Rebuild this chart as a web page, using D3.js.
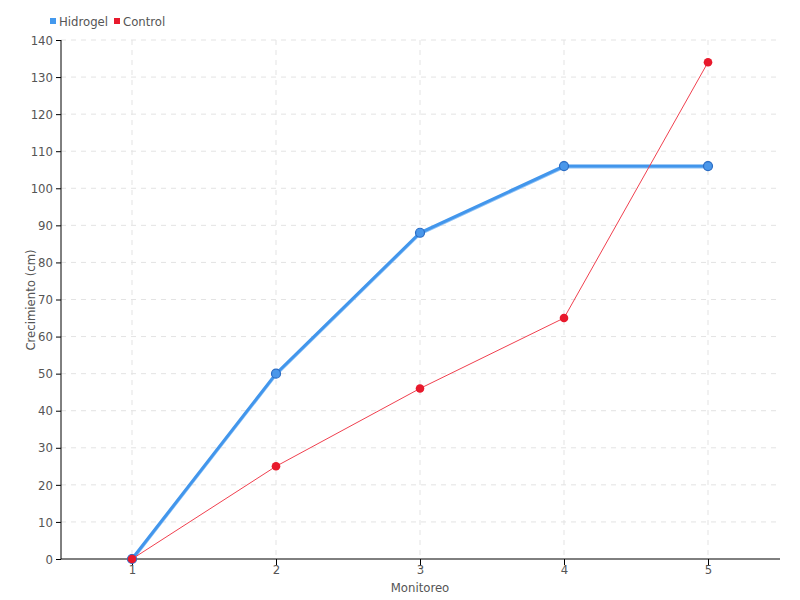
<!DOCTYPE html>
<html><head><meta charset="utf-8">
<script src="https://cdn.jsdelivr.net/npm/d3@7"></script>
<style>body{margin:0;background:#fff}svg{font-family:"Liberation Sans Narrow","DejaVu Sans Condensed",sans-serif}</style>
</head><body><svg id="c" width="800" height="600"></svg>
<script>
const categories=[1,2,3,4,5];
const hidrogel=[0,50,88,106,106];
const control=[0,25,46,65,134];
const yTicks=[0,10,20,30,40,50,60,70,80,90,100,110,120,130,140];
const svg=d3.select("#c");
const x=d3.scaleLinear().domain([0.5,5.5]).range([60,780]);
const y=d3.scaleLinear().domain([0,140]).range([559,40]);
const g=svg.append("g");
const FF="'Liberation Sans Narrow','DejaVu Sans Condensed',sans-serif";
// grid
g.selectAll(".hg").data(yTicks.slice(1)).join("line").attr("x1",61).attr("x2",780)
 .attr("y1",d=>y(d)).attr("y2",d=>y(d)).attr("stroke","#e3e3e3").attr("stroke-dasharray","5,5");
g.selectAll(".vg").data(categories).join("line").attr("x1",d=>x(d)).attr("x2",d=>x(d))
 .attr("y1",40).attr("y2",559).attr("stroke","#e3e3e3").attr("stroke-dasharray","5,5");
// axes
const ya=svg.append("g").attr("transform","translate(61,0)").call(d3.axisLeft(y).tickValues(yTicks).tickSize(5).tickPadding(3));
const xa=svg.append("g").attr("transform","translate(0,559)").call(d3.axisBottom(x).tickValues(categories).tickFormat(d3.format("d")).tickSize(6).tickPadding(0));
ya.select(".domain").attr("d","M0,40V559");
xa.select(".domain").attr("d","M61,0H780");
[ya,xa].forEach(a=>{a.selectAll("text").attr("fill","#555").style("font-size","13px").style("font-family",FF);a.selectAll("line,path").attr("stroke","#000");});
// labels
svg.append("text").attr("x",420).attr("y",592).attr("text-anchor","middle").attr("fill","#555").style("font-size","13px").text("Monitoreo");
svg.append("text").attr("transform","translate(35,300) rotate(-90)").attr("text-anchor","middle").attr("fill","#555").style("font-size","13px").text("Crecimiento (cm)");
const line=d3.line().x((d,i)=>x(categories[i])).y(d=>y(d));
// hidrogel
svg.append("path").datum(hidrogel).attr("d",line).attr("fill","none").attr("stroke","#8cc0f5").attr("stroke-width",3).attr("transform","translate(0,1)");
svg.append("path").datum(hidrogel).attr("d",line).attr("fill","none").attr("stroke","#4296ec").attr("stroke-width",3);
svg.selectAll(".hp").data(hidrogel).join("circle").attr("cx",(d,i)=>x(categories[i])).attr("cy",d=>y(d)).attr("r",4.5)
 .attr("fill","#4a97ea").attr("stroke","#2a6cc4").attr("stroke-width",1.2);
// control
svg.append("path").datum(control).attr("d",line).attr("fill","none").attr("stroke","#f0404f").attr("stroke-width",1);
svg.selectAll(".cp").data(control).join("circle").attr("cx",(d,i)=>x(categories[i])).attr("cy",d=>y(d)).attr("r",4.3)
 .attr("fill","#e8192c");
// legend
const leg=[{n:"Hidrogel",c:"#4499ee",x:50},{n:"Control",c:"#e8192c",x:114}];
leg.forEach(l=>{svg.append("rect").attr("x",l.x).attr("y",18).attr("width",6).attr("height",6).attr("fill",l.c);
 svg.append("text").attr("x",l.x+9).attr("y",26).attr("fill","#555").style("font-size","13px").text(l.n);});
</script></body></html>
